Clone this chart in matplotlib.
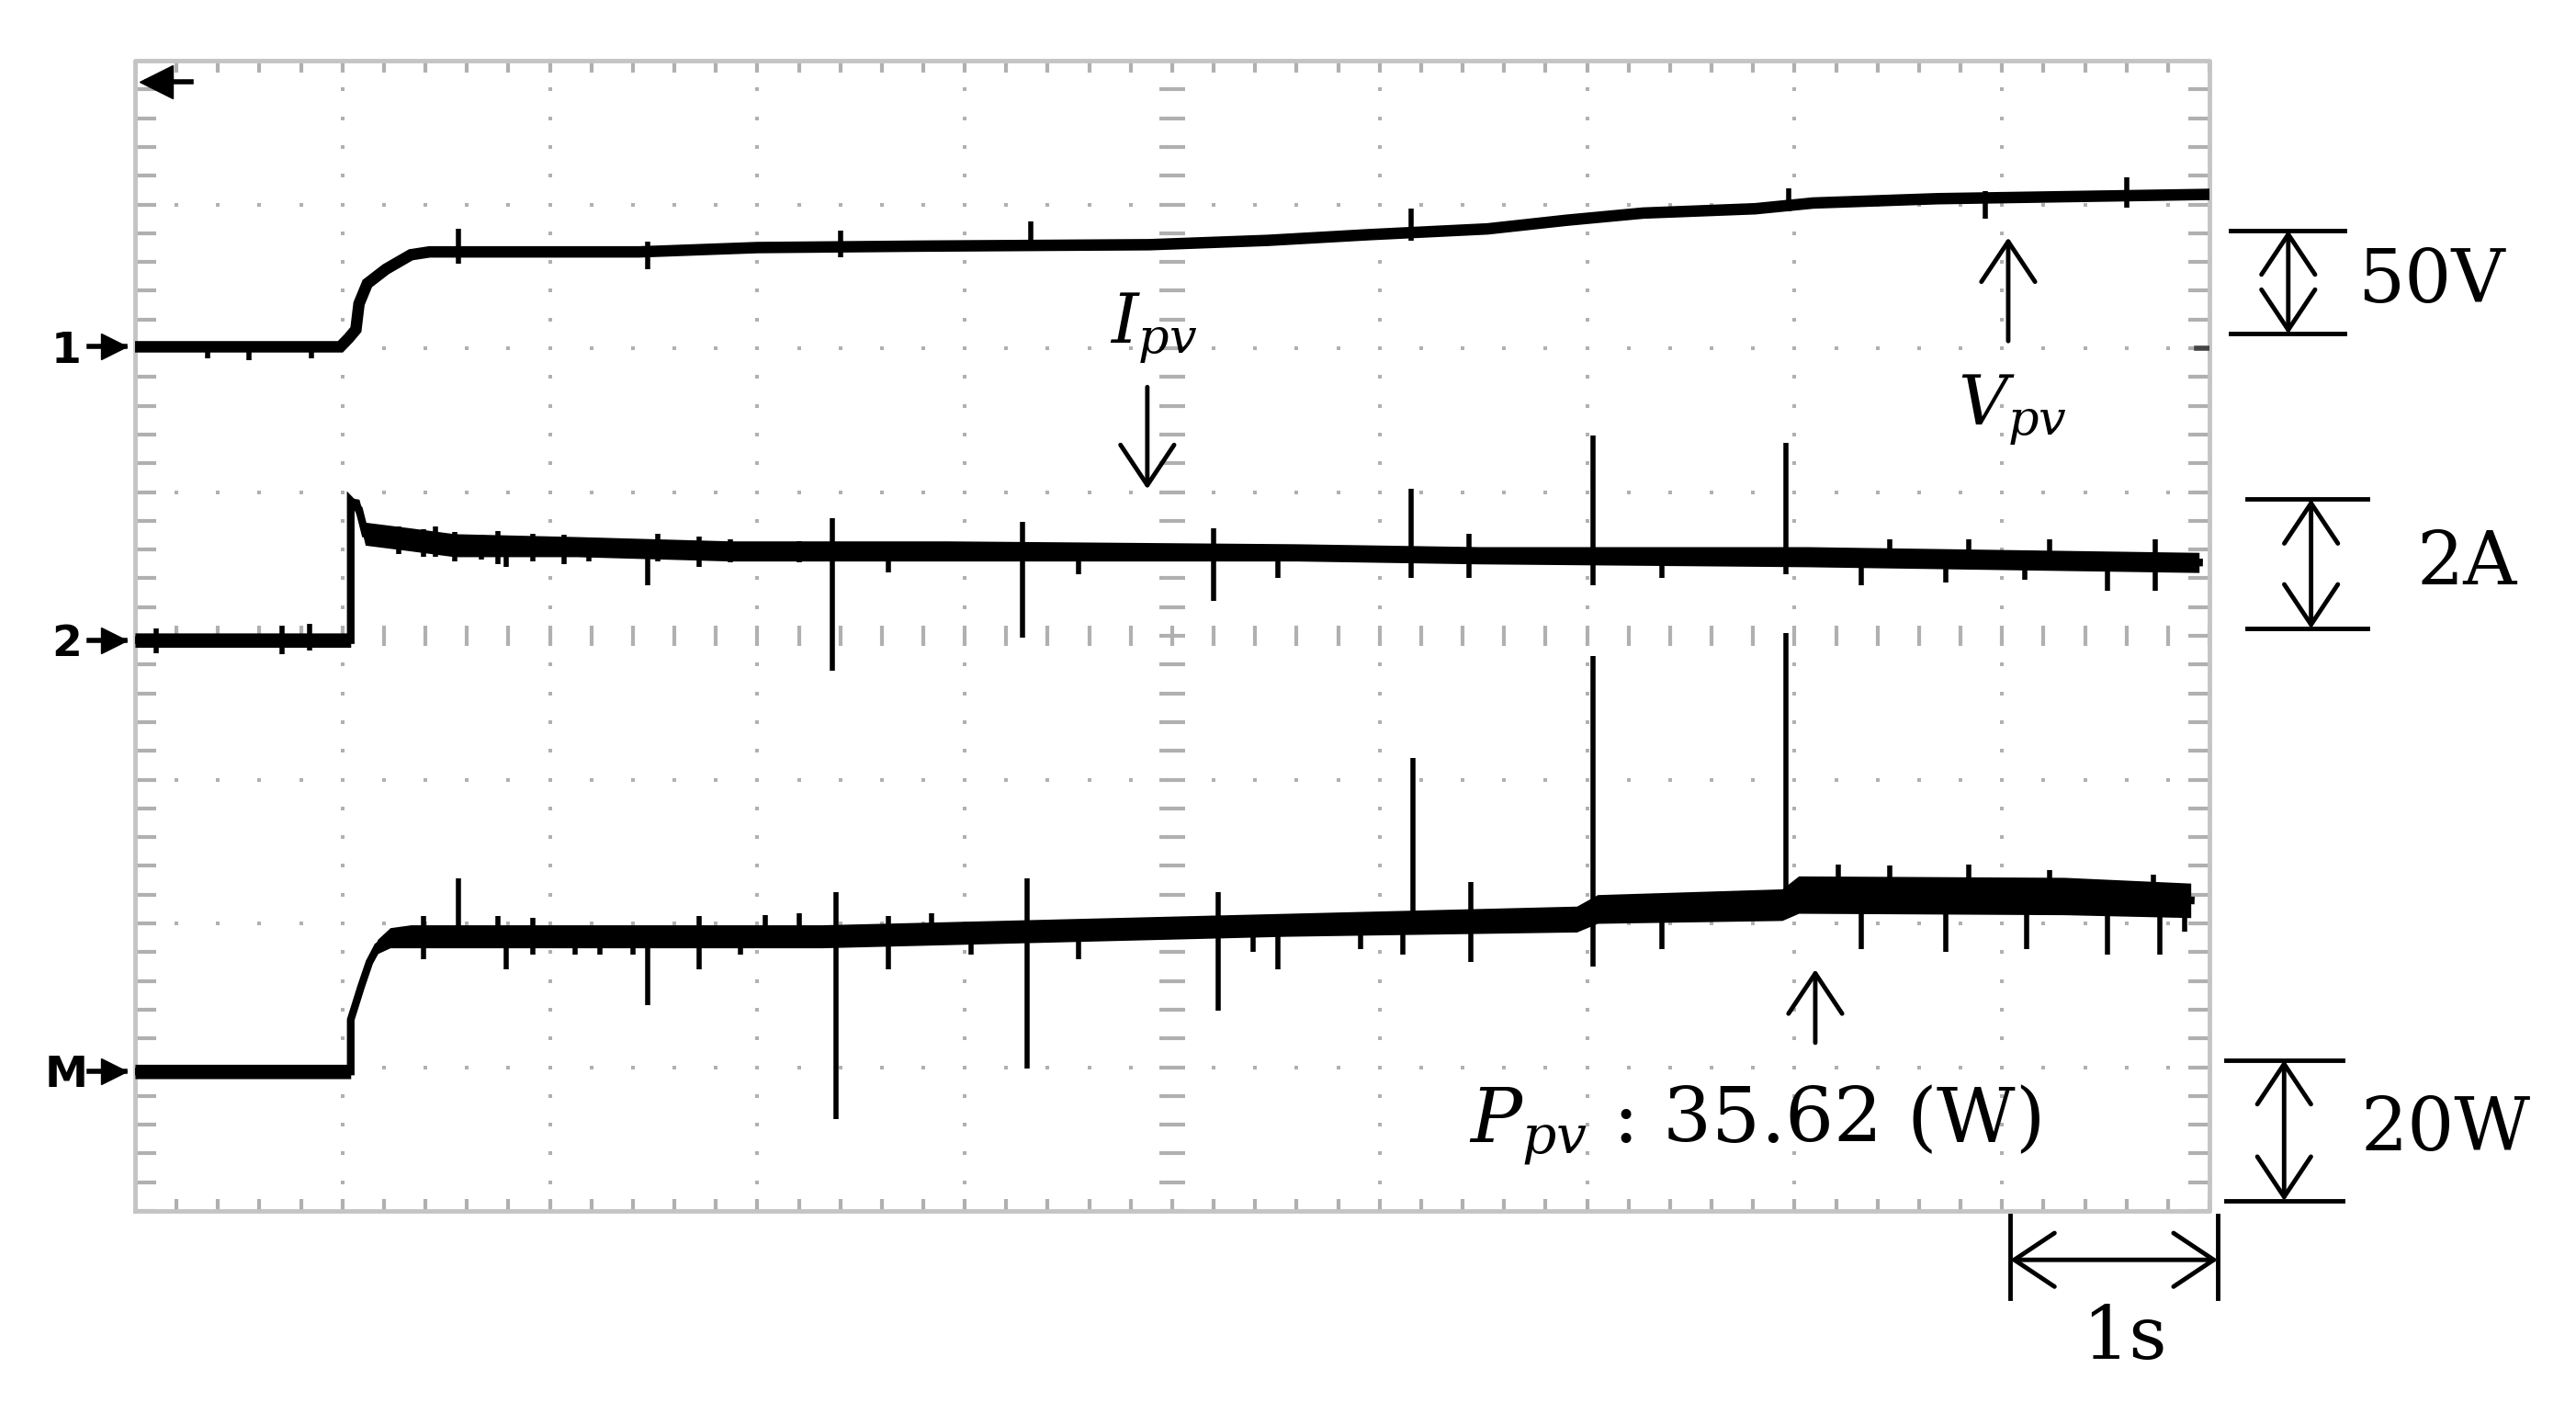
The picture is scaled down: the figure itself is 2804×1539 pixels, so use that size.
import numpy as np
import matplotlib
matplotlib.use('Agg')
import matplotlib.pyplot as plt

# ------------------------------------------------------------------
# Scope traces
# x : time in divisions (1 s/div), y : screen divisions (0..8)
# *_BAND : half thickness of the noisy trace band (div)
# ------------------------------------------------------------------
VPV_T = [0.0, 0.99, 1.03, 1.065, 1.08, 1.12, 1.21, 1.33, 1.42, 2.43, 3.00,
         3.78, 4.89, 5.46, 5.95, 6.52, 6.90, 7.27, 7.81, 8.09, 8.69, 10.0]
VPV_Y = [6.01, 6.01, 6.07, 6.13, 6.31, 6.45, 6.55, 6.65, 6.67, 6.67, 6.70,
         6.71, 6.72, 6.75, 6.79, 6.83, 6.89, 6.94, 6.97, 7.01, 7.04, 7.07]
VPV_SPK_T = [0.35, 0.55, 0.85, 1.56, 2.47, 3.40, 4.32, 6.15, 7.97, 8.92, 9.60]
VPV_SPK_HI = [6.01, 6.01, 6.01, 6.83, 6.74, 6.82, 6.88, 6.97, 7.11, 7.09, 7.19]
VPV_SPK_LO = [5.93, 5.92, 5.93, 6.59, 6.55, 6.63, 6.68, 6.75, 6.95, 6.90, 6.98]

IPV_T = [0.0, 1.04, 1.04, 1.08, 1.11, 1.33, 1.54, 2.13, 2.87, 3.91, 5.60,
         6.48, 8.06, 9.95]
IPV_Y = [3.97, 3.97, 4.94, 4.88, 4.71, 4.67, 4.63, 4.62, 4.59, 4.59, 4.58,
         4.56, 4.55, 4.51]
IPV_BAND = [0.05, 0.05, 0.02, 0.07, 0.08, 0.08, 0.08, 0.07, 0.07, 0.07, 0.06,
            0.06, 0.07, 0.07]
IPV_SPK_T = [0.10, 0.71, 0.84, 1.27, 1.39, 1.45, 1.54, 1.67, 1.75, 1.79,
             1.92, 2.07, 2.19, 2.47, 2.52, 2.72, 2.87, 3.20, 3.36, 3.63,
             4.28, 4.55, 5.20, 5.51, 6.15, 6.43, 7.03, 7.36, 7.96, 8.32,
             8.46, 8.73, 8.84, 9.11, 9.23, 9.51, 9.74]
IPV_SPK_HI = [4.05, 4.07, 4.08, 4.76, 4.74, 4.76, 4.72, 4.70, 4.73, 4.63,
              4.71, 4.70, 4.68, 4.62, 4.71, 4.69, 4.67, 4.66, 4.82, 4.60,
              4.79, 4.59, 4.75, 4.58, 5.02, 4.71, 5.39, 4.57, 5.34, 4.56,
              4.67, 4.56, 4.67, 4.55, 4.67, 4.53, 4.67]
IPV_SPK_LO = [3.88, 3.87, 3.90, 4.57, 4.55, 4.55, 4.52, 4.53, 4.50, 4.48,
              4.52, 4.50, 4.52, 4.35, 4.52, 4.48, 4.51, 4.51, 3.76, 4.44,
              3.99, 4.43, 4.24, 4.40, 4.40, 4.40, 4.35, 4.40, 4.43, 4.35,
              4.52, 4.37, 4.52, 4.39, 4.52, 4.31, 4.31]

PPV_T = [0.0, 1.04, 1.04, 1.09, 1.13, 1.17, 1.23, 1.33, 3.31, 5.55, 6.95,
         7.05, 7.94, 8.02, 9.30, 9.91]
PPV_Y = [0.97, 0.97, 1.33, 1.56, 1.73, 1.84, 1.90, 1.91, 1.91, 1.99, 2.03,
         2.10, 2.13, 2.20, 2.19, 2.16]
PPV_BAND = [0.05, 0.05, 0.02, 0.03, 0.04, 0.05, 0.07, 0.08, 0.08, 0.08, 0.09,
            0.10, 0.11, 0.13, 0.13, 0.12]
PPV_SPK_T = [1.39, 1.56, 1.75, 1.79, 1.92, 2.12, 2.24, 2.40, 2.47, 2.72,
             2.92, 3.04, 3.20, 3.38, 3.63, 3.84, 4.03, 4.30, 4.55, 5.22,
             5.39, 5.51, 5.91, 6.11, 6.16, 6.44, 7.03, 7.36, 7.96, 8.21,
             8.32, 8.46, 8.73, 8.84, 9.12, 9.23, 9.51, 9.73, 9.76, 9.88]
PPV_SPK_HI = [2.05, 2.31, 2.05, 1.91, 2.04, 1.91, 1.91, 1.91, 1.91, 2.05,
              1.95, 2.06, 2.07, 2.22, 2.05, 2.07, 1.96, 2.31, 1.96, 2.22,
              1.98, 1.98, 2.02, 2.03, 3.15, 2.29, 3.86, 2.15, 4.02, 2.41,
              2.22, 2.40, 2.22, 2.41, 2.22, 2.37, 2.22, 2.34, 2.20, 2.18]
PPV_SPK_LO = [1.75, 1.91, 1.91, 1.68, 1.78, 1.78, 1.78, 1.78, 1.43, 1.68,
              1.78, 1.91, 1.91, 0.64, 1.68, 1.91, 1.78, 0.99, 1.75, 1.39,
              1.80, 1.68, 1.82, 1.78, 2.00, 1.73, 1.70, 1.82, 2.12, 2.19,
              1.82, 2.19, 1.80, 2.19, 1.82, 2.19, 1.78, 2.19, 1.78, 1.94]

PPV_READOUT = 35.62   # W

# ------------------------------------------------------------------
plt.rcParams['font.family'] = ['DejaVu Serif']
plt.rcParams['mathtext.fontset'] = 'dejavuserif'

GRID = '#b0b0b0'
BORDER = '#c4c4c4'
INK = 'black'

fig = plt.figure(figsize=(28.04, 15.39), dpi=100)
ax = fig.add_axes([0.0524, 0.1436, 0.8053, 0.8135])
ax.set_xlim(0, 10)
ax.set_ylim(0, 8)
ax.axis('off')

# ---- graticule -----------------------------------------------------
xm = np.arange(0, 10.001, 0.2)
ym = np.arange(0, 8.001, 0.2)
for i in range(1, 10):
    if i == 5:
        continue
    ax.scatter(np.full(len(ym), i), ym, s=12, color=GRID, marker='s',
               linewidths=0, zorder=1)
for j in range(1, 8):
    if j == 4:
        continue
    ax.scatter(xm, np.full(len(xm), j), s=12, color=GRID, marker='s',
               linewidths=0, zorder=1)
# centre cross with minor ticks
ax.hlines(ym, 4.94, 5.06, color=GRID, lw=3, zorder=1)
ax.vlines(xm, 3.93, 4.07, color=GRID, lw=3, zorder=1)
# border ticks
ax.vlines(xm, 8 - 0.08, 8, color=GRID, lw=3, zorder=1)
ax.vlines(xm, 0, 0.08, color=GRID, lw=3, zorder=1)
ax.hlines(ym, 0, 0.1, color=GRID, lw=3, zorder=1)
ax.hlines(ym, 9.9, 10, color=GRID, lw=3, zorder=1)
ax.plot([0, 10, 10, 0, 0], [0, 0, 8, 8, 0], color=BORDER, lw=3.5,
        zorder=1, clip_on=False)

# ---- traces --------------------------------------------------------
ax.plot(VPV_T, VPV_Y, color=INK, lw=9, solid_joinstyle='miter', zorder=3)
ax.vlines(VPV_SPK_T, VPV_SPK_LO, VPV_SPK_HI, color=INK, lw=4, zorder=3)

iy = np.array(IPV_Y)
ib = np.array(IPV_BAND)
ax.fill_between(IPV_T, iy - ib, iy + ib, color=INK, lw=0, zorder=3)
ax.plot(IPV_T, IPV_Y, color=INK, lw=6, solid_joinstyle='miter', zorder=3)
ax.vlines(IPV_SPK_T, IPV_SPK_LO, IPV_SPK_HI, color=INK, lw=4, zorder=3)

py = np.array(PPV_Y)
pb = np.array(PPV_BAND)
ax.fill_between(PPV_T, py - pb, py + pb, color=INK, lw=0, zorder=3)
ax.plot(PPV_T, PPV_Y, color=INK, lw=6, solid_joinstyle='miter', zorder=3)
ax.vlines(PPV_SPK_T, PPV_SPK_LO, PPV_SPK_HI, color=INK, lw=4, zorder=3)

# ---- channel markers ----------------------------------------------
for lab, yv in [('1', VPV_Y[0]), ('2', IPV_Y[0]), ('M', PPV_Y[0])]:
    ax.text(-0.33, yv - 0.03, lab, ha='center', va='center', fontsize=34,
            family='DejaVu Sans', fontweight='bold', clip_on=False)
    ax.plot([-0.22, -0.05], [yv, yv], color=INK, lw=4, clip_on=False)
    ax.plot([-0.1], [yv], marker='>', ms=20, color=INK, clip_on=False)
# trigger position marker
ax.plot([0.06, 0.27], [7.85, 7.85], color=INK, lw=4, clip_on=False)
ax.plot([0.1], [7.85], marker='<', ms=26, color=INK, clip_on=False)
ax.plot([9.94, 10.0], [6.0, 6.0], color='#444444', lw=4)

# ---- labels and arrows --------------------------------------------
arr = dict(arrowstyle='->,head_length=0.45,head_width=0.3', lw=3.5,
           color=INK, shrinkA=0, shrinkB=0, mutation_scale=70)
ax.annotate('', xy=(4.88, 5.02), xytext=(4.88, 5.73), arrowprops=arr)
ax.annotate('', xy=(9.03, 6.77), xytext=(9.03, 6.05), arrowprops=arr)
ax.annotate('', xy=(8.10, 1.68), xytext=(8.10, 1.17), arrowprops=arr)

ax.text(4.91, 6.14, r'$I_{pv}$', ha='center', va='center', fontsize=54)
ax.text(9.05, 5.57, r'$V_{pv}$', ha='center', va='center', fontsize=54)
ax.text(7.81, 0.59, r'$P_{pv}$' + ' : %.2f (W)' % PPV_READOUT,
        ha='center', va='center', fontsize=60)

# scale bars outside the graticule
dbl = dict(arrowstyle='<->,head_length=0.45,head_width=0.3', lw=3.5,
           color=INK, shrinkA=0, shrinkB=0, mutation_scale=70)


def vbar(xc, y0, y1, xl0, xl1, label, xt):
    ax.plot([xl0, xl1], [y1, y1], color=INK, lw=3.5, clip_on=False)
    ax.plot([xl0, xl1], [y0, y0], color=INK, lw=3.5, clip_on=False)
    ax.annotate('', xy=(xc, y1), xytext=(xc, y0), arrowprops=dbl,
                annotation_clip=False)
    ax.text(xt, (y0 + y1) / 2, label, ha='center', va='center',
            fontsize=58, clip_on=False)


vbar(10.38, 6.10, 6.82, 10.10, 10.65, '50V', 11.07)
vbar(10.49, 4.05, 4.95, 10.18, 10.76, '2A', 11.24)
vbar(10.36, 0.07, 1.05, 10.08, 10.64, '20W', 11.14)

ax.plot([9.04, 9.04], [-0.03, -0.61], color=INK, lw=3.5, clip_on=False)
ax.plot([10.04, 10.04], [-0.03, -0.61], color=INK, lw=3.5, clip_on=False)
ax.annotate('', xy=(10.04, -0.34), xytext=(9.04, -0.34), arrowprops=dbl,
            annotation_clip=False)
ax.text(9.59, -0.89, '1s', ha='center', va='center', fontsize=58,
        clip_on=False)

fig.savefig('out.png', dpi=100, facecolor='white')
